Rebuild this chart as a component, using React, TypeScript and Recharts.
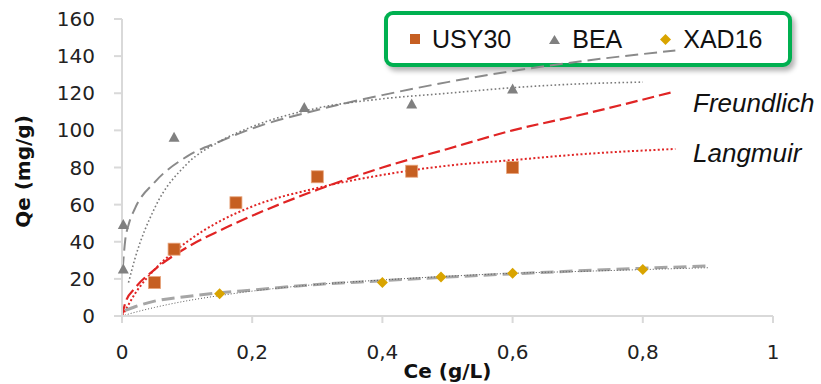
import { ComposedChart, Line, Scatter, XAxis, YAxis, Legend } from "recharts";

// measured points
const usyCe = [0.05, 0.08, 0.175, 0.3, 0.445, 0.6];
const usyQe = [18, 36, 61, 75, 78, 80];
const beaCe = [0.002, 0.002, 0.08, 0.28, 0.445, 0.6];
const beaQe = [25, 49, 96, 112, 114, 122];
const xadCe = [0.15, 0.4, 0.49, 0.6, 0.8];
const xadQe = [12, 18, 21, 23, 25];

// fitted isotherms
const usyFreundlichCe = [0, 0.005, 0.02, 0.05, 0.1, 0.15, 0.2, 0.3, 0.4, 0.5, 0.6, 0.7, 0.85];
const usyFreundlichQe = [0, 7, 15, 25, 37, 46, 54, 68, 80, 90, 100, 108, 121];
const usyLangmuirCe = [0, 0.005, 0.02, 0.05, 0.1, 0.15, 0.2, 0.3, 0.4, 0.5, 0.6, 0.7, 0.85];
const usyLangmuirQe = [0, 3, 12, 25, 40, 51, 59, 69, 76, 81, 84, 87, 90];
const beaFreundlichCe = [0.001, 0.005, 0.01, 0.02, 0.05, 0.1, 0.15, 0.2, 0.3, 0.4, 0.5, 0.6, 0.7, 0.85];
const beaFreundlichQe = [25, 41, 49, 58, 72, 86, 94, 101, 111, 119, 126, 132, 137, 143];
const beaLangmuirCe = [0.01, 0.02, 0.05, 0.1, 0.15, 0.2, 0.3, 0.4, 0.5, 0.6, 0.7, 0.8];
const beaLangmuirQe = [18, 31, 58, 82, 94, 102, 112, 117, 120, 123, 125, 126];
const xadFreundlichCe = [0.005, 0.02, 0.05, 0.1, 0.15, 0.2, 0.3, 0.4, 0.5, 0.6, 0.7, 0.8, 0.9];
const xadFreundlichQe = [3, 5, 8, 10.5, 12.5, 14, 17, 19, 21, 22.7, 24.3, 25.7, 27];
const xadLangmuirCe = [0, 0.02, 0.05, 0.1, 0.15, 0.2, 0.3, 0.4, 0.5, 0.6, 0.7, 0.8, 0.9];
const xadLangmuirQe = [0, 2, 4.6, 8.2, 11, 13.4, 17, 19.4, 21.4, 23, 24, 25, 26];

const xTicks = [0, 0.2, 0.4, 0.6, 0.8, 1];
const yTicks = [0, 20, 40, 60, 80, 100, 120, 140, 160];
const seriesNames = ["USY30", "BEA", "XAD16"];

const ORANGE = "#C65F22";
const GRAY = "#808080";
const GOLD = "#D9A400";
const RED = "#E02424";
const AXIS = "#D9D9D9";

const toPoints = (ce: number[], qe: number[]) => ce.map((x, i) => ({ ce: x, qe: qe[i] }));

const Square = (p: any) => (
  <rect x={p.cx - 6} y={p.cy - 6} width={12} height={12} fill={ORANGE} stroke="#E8A47C" strokeWidth={0.8} />
);
const Triangle = (p: any) => (
  <polygon points={`${p.cx},${p.cy - 6} ${p.cx + 5.5},${p.cy + 4} ${p.cx - 5.5},${p.cy + 4}`} fill={GRAY} />
);
const Diamond = (p: any) => (
  <polygon points={`${p.cx},${p.cy - 5.5} ${p.cx + 5.5},${p.cy} ${p.cx},${p.cy + 5.5} ${p.cx - 5.5},${p.cy}`} fill={GOLD} />
);

function LegendMarker({ kind }: { kind: number }) {
  if (kind === 0) return <svg width={10} height={10}><rect width={10} height={10} fill={ORANGE} /></svg>;
  if (kind === 1) return <svg width={11} height={9}><polygon points="5.5,0 11,9 0,9" fill={GRAY} /></svg>;
  return <svg width={11} height={11}><polygon points="5.5,0 11,5.5 5.5,11 0,5.5" fill={GOLD} /></svg>;
}

function LegendBox() {
  return (
    <div
      style={{
        boxSizing: "border-box",
        width: 408,
        height: 56,
        border: "4.5px solid #00B050",
        borderRadius: 9,
        background: "#fff",
        boxShadow: "3px 4px 5px rgba(0,0,0,0.3)",
        display: "flex",
        alignItems: "center",
        paddingLeft: 22,
        fontFamily: "'Liberation Sans', Arial, sans-serif",
        fontSize: 25,
        color: "#111",
      }}
    >
      {seriesNames.map((name, i) => (
        <div key={name} style={{ display: "flex", alignItems: "center", marginRight: 38 }}>
          <LegendMarker kind={i} />
          <span style={{ marginLeft: 12, lineHeight: 1 }}>{name}</span>
        </div>
      ))}
    </div>
  );
}

function YTitle({ viewBox }: any) {
  const { x, y, height } = viewBox;
  const cx = x + 23;
  const cy = y + height / 2 + 4;
  return (
    <text
      x={cx}
      y={cy}
      transform={`rotate(-90 ${cx} ${cy})`}
      textAnchor="middle"
      dominantBaseline="central"
      fontFamily="'DejaVu Sans', sans-serif"
      fontWeight="bold"
      fontSize={20}
      fill="#111"
    >
      Qe (mg/g)
    </text>
  );
}

const tickStyle = { fontFamily: "'DejaVu Sans', sans-serif", fontSize: 20, fill: "#222" };
const noteStyle: any = {
  position: "absolute",
  left: 693,
  fontFamily: "'Liberation Sans', Arial, sans-serif",
  fontStyle: "italic",
  fontSize: 26,
  lineHeight: 1,
  color: "#111",
};

export default function App() {
  return (
    <div style={{ position: "absolute", left: 0, top: 0, width: 821, height: 384, background: "transparent" }}>
      <ComposedChart width={821} height={384} margin={{ top: 19, right: 48, bottom: 0, left: 0 }}>
        <XAxis
          dataKey="ce"
          type="number"
          domain={[0, 1]}
          ticks={xTicks}
          tickFormatter={(v: number) => String(v).replace(".", ",")}
          height={68}
          stroke={AXIS}
          strokeWidth={2}
          tickSize={7}
          tickMargin={22}
          tick={tickStyle}
          label={{
            value: "Ce (g/L)",
            position: "insideBottom",
            offset: 6,
            style: { fontFamily: "'DejaVu Sans', sans-serif", fontWeight: "bold", fontSize: 20, fill: "#111" },
          }}
        />
        <YAxis
          dataKey="qe"
          type="number"
          domain={[0, 160]}
          ticks={yTicks}
          width={122}
          stroke={AXIS}
          strokeWidth={2}
          tickSize={8}
          tickMargin={19}
          tick={tickStyle}
          label={<YTitle />}
        />
        <Legend
          layout="vertical"
          align="center"
          verticalAlign="middle"
          content={() => <LegendBox />}
          wrapperStyle={{ left: 384, top: 11, width: 408, height: 56, zIndex: -1 }}
        />
        <Line data={toPoints(usyFreundlichCe, usyFreundlichQe)} dataKey="qe" type="monotone" stroke={RED} strokeWidth={2.2} strokeDasharray="12 5" dot={false} activeDot={false} legendType="none" isAnimationActive={false} />
        <Line data={toPoints(usyLangmuirCe, usyLangmuirQe)} dataKey="qe" type="monotone" stroke={RED} strokeWidth={2} strokeDasharray="2 2.3" dot={false} activeDot={false} legendType="none" isAnimationActive={false} />
        <Line data={toPoints(beaFreundlichCe, beaFreundlichQe)} dataKey="qe" type="monotone" stroke="#8A8A8A" strokeWidth={2} strokeDasharray="13 6" dot={false} activeDot={false} legendType="none" isAnimationActive={false} />
        <Line data={toPoints(beaLangmuirCe, beaLangmuirQe)} dataKey="qe" type="monotone" stroke="#7A7A7A" strokeWidth={1.6} strokeDasharray="1.6 2.4" dot={false} activeDot={false} legendType="none" isAnimationActive={false} />
        <Line data={toPoints(xadFreundlichCe, xadFreundlichQe)} dataKey="qe" type="monotone" stroke="#A6A6A6" strokeWidth={3} strokeDasharray="13 6" dot={false} activeDot={false} legendType="none" isAnimationActive={false} />
        <Line data={toPoints(xadLangmuirCe, xadLangmuirQe)} dataKey="qe" type="monotone" stroke="#595959" strokeWidth={1} strokeDasharray="1 2" dot={false} activeDot={false} legendType="none" isAnimationActive={false} />
        <Scatter name={seriesNames[0]} data={toPoints(usyCe, usyQe)} shape={Square} isAnimationActive={false} />
        <Scatter name={seriesNames[1]} data={toPoints(beaCe, beaQe)} shape={Triangle} isAnimationActive={false} />
        <Scatter name={seriesNames[2]} data={toPoints(xadCe, xadQe)} shape={Diamond} isAnimationActive={false} />
      </ComposedChart>
      <div style={{ ...noteStyle, top: 90 }}>Freundlich</div>
      <div style={{ ...noteStyle, top: 140 }}>Langmuir</div>
    </div>
  );
}
